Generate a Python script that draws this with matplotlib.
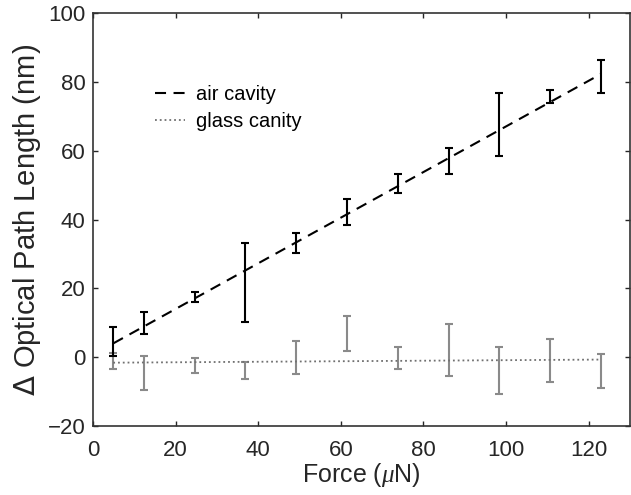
import numpy as np
import matplotlib
matplotlib.use("Agg")
import matplotlib.pyplot as plt

plt.rcParams['font.family'] = ['Liberation Sans', 'DejaVu Sans']
plt.rcParams['mathtext.fontset'] = 'custom'
plt.rcParams['mathtext.it'] = 'Liberation Serif:italic'

# applied force (uN)
force = [4.9, 12.3, 24.6, 36.9, 49.2, 61.5, 73.8, 86.1, 98.4, 110.7, 123.0]

# air cavity: bar bottoms / tops (nm)
air_lo = [0.4, 6.7, 16.1, 10.3, 30.4, 38.5, 47.6, 53.2, 58.5, 73.8, 76.7]
air_hi = [8.8, 13.0, 18.8, 33.3, 36.0, 45.9, 53.2, 60.7, 76.7, 77.7, 86.3]

# glass cavity: bar bottoms / tops (nm)
glass_lo = [-3.5, -9.5, -4.7, -6.4, -4.9, 1.8, -3.5, -5.6, -10.6, -7.1, -9.1]
glass_hi = [1.2, 0.2, -0.3, -1.5, 4.7, 12.0, 3.0, 9.6, 3.0, 5.4, 0.9]

# fitted lines (end points)
fit_x = [4.9, 123.0]
air_fit = [4.0, 82.3]
glass_fit = [-1.6, -0.7]

air_lo, air_hi = np.array(air_lo), np.array(air_hi)
glass_lo, glass_hi = np.array(glass_lo), np.array(glass_hi)
air_mid = (air_lo + air_hi) / 2
glass_mid = (glass_lo + glass_hi) / 2

fig = plt.figure(figsize=(6.31, 4.95), dpi=100)
ax = fig.add_axes([93/631, 1 - 426/495, 537/631, 413/495])

dark = '#262626'
gray = '#8a8a8a'
ax.errorbar(force, glass_mid, yerr=[glass_mid - glass_lo, glass_hi - glass_mid],
            fmt='none', ecolor=gray, elinewidth=1.5, capsize=2.6, capthick=1.5)
ax.errorbar(force, air_mid, yerr=[air_mid - air_lo, air_hi - air_mid],
            fmt='none', ecolor='black', elinewidth=1.5, capsize=2.6, capthick=1.5)

ax.plot(fit_x, air_fit, '--', color='black', lw=1.5, dashes=(5.3, 3.6), label='air cavity')
ax.plot(fit_x, glass_fit, ':', color='#707070', lw=1.3, label='glass canity')

ax.set_xlim(0, 130)
ax.set_ylim(-20, 100)
ax.set_xticks(np.arange(0, 121, 20))
ax.set_yticks(np.arange(-20, 101, 20))
ax.tick_params(direction='in', top=True, right=True, labelsize=16, length=3.5,
               width=1, colors=dark, labelcolor=dark)
ax.tick_params(axis='x', pad=10)
ax.tick_params(axis='y', pad=5.5)
for s in ax.spines.values():
    s.set_linewidth(1.2)
    s.set_color('#333333')

ax.set_xlabel(r'Force ($\mathit{\mu}$N)', fontsize=18, color=dark, labelpad=0)
ax.set_ylabel(r'$\Delta$ Optical Path Length (nm)', fontsize=21, color=dark, labelpad=3)

ax.legend(loc='upper left', bbox_to_anchor=(0.115, 0.826), frameon=False,
          borderaxespad=0, borderpad=0, fontsize=14.5, handlelength=1.5,
          handletextpad=0.55, labelspacing=0.4)

fig.savefig('out.png', dpi=100)
